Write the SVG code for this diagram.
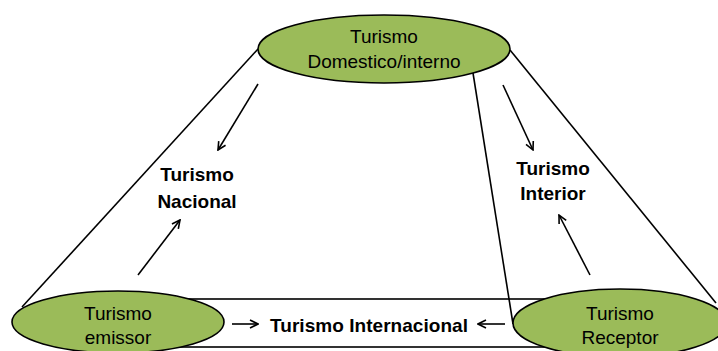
<svg xmlns="http://www.w3.org/2000/svg" width="718" height="351" viewBox="0 0 718 351">
<style>
.ln{stroke:#000;stroke-width:1.6;fill:none}
.ar{stroke:#000;stroke-width:1.6;fill:none;marker-end:url(#ah)}
.ell{fill:#9BBB59;stroke:#000;stroke-width:1.6}
.t{font-family:"Liberation Sans",Arial,sans-serif;font-size:19px;fill:#000;text-anchor:middle}
.b{font-family:"Liberation Sans",Arial,sans-serif;font-size:19px;font-weight:bold;fill:#000;text-anchor:middle}
</style>
<defs>
<marker id="ah" viewBox="0 0 10 10" refX="9" refY="5" markerWidth="10" markerHeight="10" markerUnits="userSpaceOnUse" orient="auto">
<path d="M1,1 L9,5 L1,9" fill="none" stroke="#000" stroke-width="1.6"/>
</marker>
</defs>
<rect width="718" height="351" fill="#fff"/>
<g id="connectors">
<rect class="ln" x="118" y="299" width="502" height="48"/>
<line class="ln" x1="258" y1="49" x2="22" y2="307"/>
<line class="ln" x1="510" y1="50" x2="716" y2="303"/>
<line class="ln" x1="473" y1="73" x2="513" y2="324"/>
<line class="ar" x1="258" y1="84" x2="218" y2="150"/>
<line class="ar" x1="138" y1="275" x2="180" y2="220"/>
<line class="ar" x1="503" y1="85" x2="533" y2="150"/>
<line class="ar" x1="590" y1="275" x2="559" y2="215"/>
<line class="ar" x1="232" y1="324" x2="258" y2="324"/>
<line class="ar" x1="505" y1="324" x2="478" y2="324"/>
</g>
<g id="domestico">
<ellipse class="ell" cx="384" cy="49" rx="126" ry="34"/>
<text class="t" x="384" y="43">Turismo</text>
<text class="t" x="384" y="68">Domestico/interno</text>
</g>
<g id="emissor">
<ellipse class="ell" cx="118" cy="322" rx="106" ry="31"/>
<text class="t" x="118" y="320">Turismo</text>
<text class="t" x="118" y="344">emissor</text>
</g>
<g id="receptor">
<ellipse class="ell" cx="620" cy="323" rx="107" ry="34"/>
<text class="t" x="620" y="320">Turismo</text>
<text class="t" x="620" y="344">Receptor</text>
</g>
<g id="nacional">
<text class="b" x="197" y="181">Turismo</text>
<text class="b" x="197" y="208">Nacional</text>
</g>
<g id="interior">
<text class="b" x="553" y="175">Turismo</text>
<text class="b" x="553" y="200">Interior</text>
</g>
<g id="internacional">
<text class="b" x="369" y="332" textLength="198" lengthAdjust="spacing">Turismo Internacional</text>
</g>
</svg>
